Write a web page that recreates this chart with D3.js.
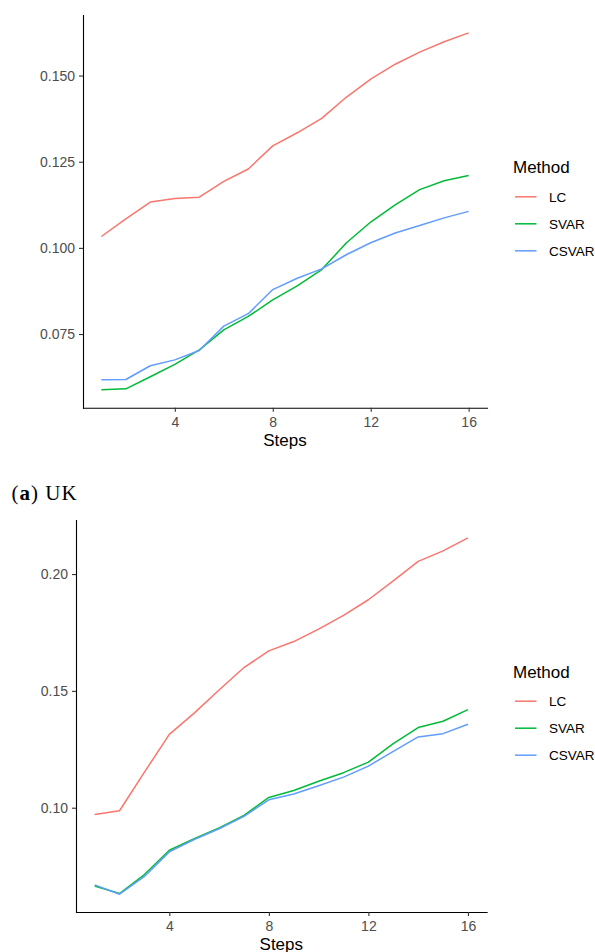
<!DOCTYPE html>
<html>
<head>
<meta charset="utf-8">
<script src="https://cdn.jsdelivr.net/npm/d3@7"></script>
<style>
  html, body { margin: 0; padding: 0; background: #fff; }
  svg { display: block; }
</style>
</head>
<body>
<svg id="fig" width="595" height="952"></svg>
<script>
// Forecast horizon
const steps = [1, 2, 3, 4, 5, 6, 7, 8, 9, 10, 11, 12, 13, 14, 15, 16];
const methods = ["LC", "SVAR", "CSVAR"];
const methodColors = ["#F8766D", "#00BA38", "#619CFF"];

// Panel (a): UK
const ukLC    = [0.1033, 0.1084, 0.1133, 0.1143, 0.1147, 0.1193, 0.1229, 0.1296,
                 0.1334, 0.1376, 0.1437, 0.1490, 0.1533, 0.1568, 0.1598, 0.1624];
const ukSVAR  = [0.0588, 0.0591, 0.0626, 0.0662, 0.0704, 0.0762, 0.0801, 0.0849,
                 0.0890, 0.0937, 0.1014, 0.1075, 0.1125, 0.1169, 0.1195, 0.1210];
const ukCSVAR = [0.0617, 0.0618, 0.0658, 0.0675, 0.0702, 0.0773, 0.0809, 0.0879,
                 0.0912, 0.0939, 0.0980, 0.1015, 0.1043, 0.1065, 0.1087, 0.1106];
const ukYTicks = [0.075, 0.100, 0.125, 0.150];

// Panel (b)
const bLC    = [0.0971, 0.0987, 0.1152, 0.1314, 0.1405, 0.1504, 0.1600, 0.1671,
                0.1711, 0.1764, 0.1823, 0.1890, 0.1971, 0.2054, 0.2099, 0.2155];
const bSVAR  = [0.0665, 0.0633, 0.0714, 0.0818, 0.0868, 0.0914, 0.0967, 0.1044,
                0.1074, 0.1113, 0.1150, 0.1195, 0.1274, 0.1343, 0.1370, 0.1420];
const bCSVAR = [0.0670, 0.0630, 0.0706, 0.0811, 0.0864, 0.0910, 0.0963, 0.1034,
                0.1059, 0.1094, 0.1131, 0.1178, 0.1241, 0.1303, 0.1317, 0.1357];
const bYTicks = [0.10, 0.15, 0.20];

const xTicks = [4, 8, 12, 16];

const svg = d3.select("#fig");
const sans = "'Liberation Sans', Arial, sans-serif";

// ggplot-style 5% expansion of a data extent
function expand(ext) {
  const pad = (ext[1] - ext[0]) * 0.05;
  return [ext[0] - pad, ext[1] + pad];
}

function drawPanel(opts) {
  const { series, yTicks, yFmt, left, right, top, bottom, legendTop } = opts;
  const g = svg.append("g");

  const x = d3.scaleLinear().domain(expand(d3.extent(steps))).range([left, right]);
  const all = series.flat();
  const y = d3.scaleLinear().domain(expand(d3.extent(all))).range([bottom, top]);

  // lines
  const line = d3.line().x((d, i) => x(steps[i])).y(d => y(d));
  series.forEach((s, k) => {
    g.append("path")
      .datum(s)
      .attr("d", line)
      .attr("fill", "none")
      .attr("stroke", methodColors[k])
      .attr("stroke-width", 1.5)
      .attr("stroke-linejoin", "round");
  });

  // axes
  const yAxis = g.append("g")
    .attr("transform", `translate(${left},0)`)
    .call(d3.axisLeft(y).tickValues(yTicks).tickFormat(d3.format(yFmt))
      .tickSize(4).tickSizeOuter(0).tickPadding(4));
  const xAxis = g.append("g")
    .attr("transform", `translate(0,${bottom})`)
    .call(d3.axisBottom(x).tickValues(xTicks)
      .tickSize(4).tickSizeOuter(0).tickPadding(5));

  [yAxis, xAxis].forEach(ax => {
    ax.select(".domain").attr("stroke", "#000").attr("stroke-width", 1.1)
      .attr("stroke-linecap", "square");
    ax.selectAll(".tick line").attr("stroke", "#333").attr("stroke-width", 1.1);
    ax.selectAll(".tick text")
      .attr("fill", "#4D4D4D")
      .style("font-family", sans)
      .style("font-size", "14px");
  });

  // x-axis title
  g.append("text")
    .attr("x", (left + right) / 2)
    .attr("y", bottom + 38)
    .attr("text-anchor", "middle")
    .style("font-family", sans)
    .style("font-size", "17px")
    .attr("fill", "#000")
    .text("Steps");

  // legend
  const lg = g.append("g").attr("transform", `translate(513,${legendTop})`);
  lg.append("text")
    .attr("x", 0).attr("y", 0)
    .style("font-family", sans)
    .style("font-size", "17px")
    .attr("fill", "#000")
    .text("Method");
  methods.forEach((m, k) => {
    const yy = 23.5 + k * 27;
    lg.append("line")
      .attr("x1", 2).attr("x2", 23.5)
      .attr("y1", yy).attr("y2", yy)
      .attr("stroke", methodColors[k])
      .attr("stroke-width", 1.5);
    lg.append("text")
      .attr("x", 36).attr("y", yy)
      .attr("dy", "0.36em")
      .style("font-family", sans)
      .style("font-size", "13.5px")
      .attr("fill", "#000")
      .text(m);
  });
}

drawPanel({
  series: [ukLC, ukSVAR, ukCSVAR],
  yTicks: ukYTicks, yFmt: ".3f",
  left: 83, right: 487, top: 15, bottom: 407.7,
  legendTop: 173.3
});

// caption of panel (a)
const cap = svg.append("text")
  .attr("x", 11.5).attr("y", 499.5)
  .style("font-family", "'Liberation Serif', 'Times New Roman', serif")
  .style("font-size", "21px")
  .style("letter-spacing", "1px")
  .attr("fill", "#000");
cap.append("tspan").text("(");
cap.append("tspan").style("font-weight", "bold").text("a");
cap.append("tspan").text(") UK");

drawPanel({
  series: [bLC, bSVAR, bCSVAR],
  yTicks: bYTicks, yFmt: ".2f",
  left: 76, right: 486.6, top: 520, bottom: 912,
  legendTop: 677.7
});
</script>
</body>
</html>
